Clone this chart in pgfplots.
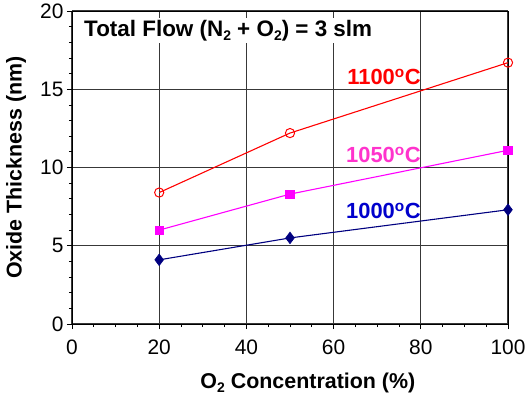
\documentclass[border=0pt]{standalone}
\usepackage{fontspec}
\setmainfont{Liberation Sans}
\usepackage{pgfplots}
\pgfplotsset{compat=1.18}
\definecolor{cA}{RGB}{255,0,0}
\definecolor{cB}{RGB}{255,0,255}
\definecolor{cC}{RGB}{0,0,128}
\definecolor{lB}{RGB}{255,51,204}
\definecolor{lC}{RGB}{0,0,204}
\newcommand{\sub}[1]{\raisebox{-0.35ex}{\fontsize{14}{16}\selectfont #1}}
\begin{document}
\begin{tikzpicture}
\path[use as bounding box] (-72bp,-74bp) rectangle (459bp,324bp);
\begin{axis}[
  at={(0,0)}, anchor=south west,
  scale only axis, width=436bp, height=313bp,
  xmin=0, xmax=100, ymin=0, ymax=20,
  xtick={0,20,...,100}, ytick={0,5,...,20},
  minor x tick num=3, minor y tick num=4,
  tick align=outside, xtick pos=bottom, ytick pos=left,
  major tick length=5bp, minor tick length=3bp,
  tick style={black, line width=0.8pt},
  grid=major,
  major grid style={black!78, line width=1.3pt},
  axis line style={black, line width=1pt},
  clip=false,
  /pgf/number format/assume math mode=true,
  ticklabel style={font=\fontsize{21}{25}\selectfont},
  xticklabel style={yshift=-7bp},
  xlabel={\textbf{O\sub{2} Concentration (\%)}},
  ylabel={\textbf{Oxide Thickness (nm)}},
  label style={font=\fontsize{21.5}{25}\selectfont},
  xlabel style={at={(axis description cs:0.541,-0.1885)}, anchor=center},
  ylabel style={at={(axis description cs:-0.128,0.5)}, anchor=center},
]
\addplot[cA, line width=1.1pt, mark=o, mark size=4.6bp, mark options={fill=white, line width=1pt}] coordinates {(20,8.4) (50,12.2) (100,16.7)};
\addplot[cB, line width=1.1pt, mark=square*, mark size=4.3bp, mark options={line width=0.6pt}] coordinates {(20,6.0) (50,8.3) (100,11.1)};
\addplot[cC, line width=1.1pt, mark=diamond*, mark size=5.8bp, mark options={line width=0.6pt}] coordinates {(20,4.1) (50,5.5) (100,7.3)};
\node[anchor=west, fill=white, inner sep=2bp, font=\bfseries\fontsize{22.5}{26}\selectfont] at (axis cs:2.3,18.75) {Total Flow (N\sub{2} + O\sub{2}) = 3 slm};
\node[anchor=east, inner sep=0pt, text=cA, font=\bfseries\fontsize{22}{26}\selectfont] at (axis cs:80,15.78) {1100\textsuperscript{o}C};
\node[anchor=east, inner sep=0pt, text=lB, font=\bfseries\fontsize{22}{26}\selectfont] at (axis cs:80,10.8) {1050\textsuperscript{o}C};
\node[anchor=east, inner sep=0pt, text=lC, font=\bfseries\fontsize{22}{26}\selectfont] at (axis cs:80,7.22) {1000\textsuperscript{o}C};
\end{axis}
\end{tikzpicture}
\end{document}
